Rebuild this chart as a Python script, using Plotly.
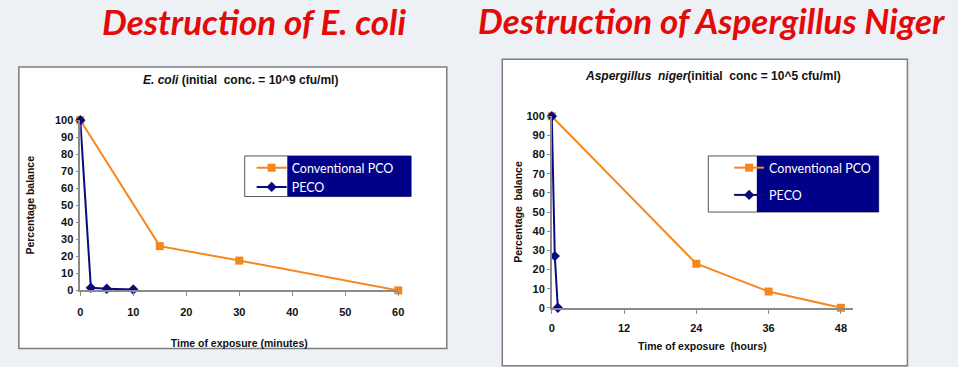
import plotly.graph_objects as go

W, H = 958, 367

# ---- data ----
ecoli_conv_t = [0, 15, 30, 60]
ecoli_conv_v = [100, 26, 17.5, 0]
ecoli_peco_t = [0, 2, 5, 10]
ecoli_peco_v = [100, 1.5, 1, 0.5]

asp_conv_t = [0, 24, 36, 48]
asp_conv_v = [100, 23, 8.5, 0]
asp_peco_t = [0, 0.5, 1]
asp_peco_v = [100, 27, 0]

ecoli_xticks = [0, 10, 20, 30, 40, 50, 60]
asp_xticks = [0, 12, 24, 36, 48]
yticks = [0, 10, 20, 30, 40, 50, 60, 70, 80, 90, 100]

ORANGE = "#F7861E"
NAVY = "#0A0A80"
RED = "#E40A0A"
AX = "#8a8a8a"
FONT = "Liberation Sans, Arial, sans-serif"

def px(x):
    return x / W

def py(y):
    return 1 - y / H

fig = go.Figure()

fig.add_trace(go.Scatter(x=ecoli_conv_t, y=ecoli_conv_v, name="Conventional PCO",
                         mode="lines+markers", line=dict(color=ORANGE, width=2),
                         marker=dict(symbol="square", size=8, color=ORANGE),
                         xaxis="x", yaxis="y", legend="legend", legendgroup="a1", cliponaxis=False))
fig.add_trace(go.Scatter(x=ecoli_peco_t, y=ecoli_peco_v, name="PECO",
                         mode="lines+markers", line=dict(color=NAVY, width=2),
                         marker=dict(symbol="diamond", size=8, color=NAVY),
                         xaxis="x", yaxis="y", legend="legend", legendgroup="a2", cliponaxis=False))
fig.add_trace(go.Scatter(x=asp_conv_t, y=asp_conv_v, name="Conventional PCO",
                         mode="lines+markers", line=dict(color=ORANGE, width=2),
                         marker=dict(symbol="square", size=8, color=ORANGE),
                         xaxis="x2", yaxis="y2", legend="legend2", legendgroup="b1", cliponaxis=False))
fig.add_trace(go.Scatter(x=asp_peco_t, y=asp_peco_v, name="PECO",
                         mode="lines+markers", line=dict(color=NAVY, width=2),
                         marker=dict(symbol="diamond", size=8, color=NAVY),
                         xaxis="x2", yaxis="y2", legend="legend2", legendgroup="b2", cliponaxis=False))

tickfont = dict(family=FONT, size=11, color="#111", weight="bold")
titlefont = dict(family=FONT, size=10.5, color="#111", weight="bold")

common_x = dict(showgrid=False, zeroline=False, showline=True, linecolor=AX, linewidth=1.5,
                ticks="outside", ticklen=4, tickcolor=AX, tickfont=tickfont, fixedrange=True)
common_y = dict(showgrid=False, zeroline=False, showline=True, linecolor=AX, linewidth=1.5,
                ticks="outside", ticklen=3, tickcolor=AX, tickfont=tickfont, range=[0, 100],
                tickvals=yticks, fixedrange=True)

fig.update_layout(
    width=W, height=H,
    margin=dict(l=0, r=0, t=0, b=0),
    paper_bgcolor="#EDF1F6",
    plot_bgcolor="rgba(0,0,0,0)",
    xaxis=dict(common_x, domain=[px(78), px(399)], range=[0, 60], tickvals=ecoli_xticks,
               anchor="y", ticklabelstandoff=7,
               title=dict(text="Time of exposure (minutes)", font=titlefont, standoff=22)),
    yaxis=dict(common_y, domain=[py(294), py(118)], anchor="x",
               title=dict(text="Percentage balance", font=titlefont, standoff=18)),
    xaxis2=dict(common_x, domain=[px(554), px(858)], range=[0, 50], tickvals=asp_xticks,
                anchor="y2", ticklabelstandoff=5,
                title=dict(text="Time of exposure  (hours)", font=titlefont, standoff=10)),
    yaxis2=dict(common_y, domain=[py(312), py(114)], anchor="x2",
                title=dict(text="Percentage  balance", font=titlefont, standoff=2)),
    legend=dict(x=px(251), y=py(152), xanchor="left", yanchor="top", bgcolor="rgba(0,0,0,0)",
                font=dict(family="Lato, sans-serif", size=12.5, color="white"),
                traceorder="grouped", tracegroupgap=0, borderwidth=0),
    legend2=dict(x=px(733), y=py(152), xanchor="left", yanchor="top", bgcolor="rgba(0,0,0,0)",
                 font=dict(family="Lato, sans-serif", size=12.5, color="white"),
                 traceorder="grouped", tracegroupgap=8, borderwidth=0),
    showlegend=True,
)

shapes = [
    # chart boxes
    dict(type="rect", xref="paper", yref="paper", x0=px(16), x1=px(448), y0=py(354), y1=py(63),
         fillcolor="white", line=dict(color="#7d7d7d", width=1.5), layer="below"),
    dict(type="rect", xref="paper", yref="paper", x0=px(504), x1=px(913), y0=py(372), y1=py(55),
         fillcolor="white", line=dict(color="#7d7d7d", width=1.5), layer="below"),
    # legend boxes
    dict(type="rect", xref="paper", yref="paper", x0=px(244), x1=px(412), y0=py(197), y1=py(155),
         fillcolor="white", line=dict(color="#555", width=1), layer="below"),
    dict(type="rect", xref="paper", yref="paper", x0=px(287), x1=px(412), y0=py(197), y1=py(155),
         fillcolor="#000088", line=dict(width=0), layer="below"),
    dict(type="rect", xref="paper", yref="paper", x0=px(712), x1=px(884), y0=py(213), y1=py(155),
         fillcolor="white", line=dict(color="#555", width=1), layer="below"),
    dict(type="rect", xref="paper", yref="paper", x0=px(761), x1=px(884), y0=py(213), y1=py(155),
         fillcolor="#000088", line=dict(width=0), layer="below"),
]
fig.update_layout(shapes=shapes)

big = dict(family="Lato, sans-serif", size=35, color=RED, weight="bold", style="italic")
sub = dict(family=FONT, size=12, color="#111", weight="bold")
annotations = [
    dict(text="Destruction of E. coli", x=px(253), y=py(15), xref="paper", yref="paper",
         showarrow=False, font=big, xanchor="center", yanchor="middle"),
    dict(text="Destruction of Aspergillus Niger", x=px(715), y=py(14), xref="paper", yref="paper",
         showarrow=False, font=big, xanchor="center", yanchor="middle"),
    dict(text="<i>E. coli</i> (initial  conc. = 10^9 cfu/ml)", x=px(240), y=py(77),
         xref="paper", yref="paper", showarrow=False, font=sub, xanchor="center", yanchor="middle"),
    dict(text="<i>Aspergillus  niger</i>(initial  conc = 10^5 cfu/ml)", x=px(717), y=py(72),
         xref="paper", yref="paper", showarrow=False, font=sub, xanchor="center", yanchor="middle"),
]
fig.update_layout(annotations=annotations)

fig.write_html("out.html", config={"displayModeBar": False},
               post_script="document.body.style.margin='0';")
